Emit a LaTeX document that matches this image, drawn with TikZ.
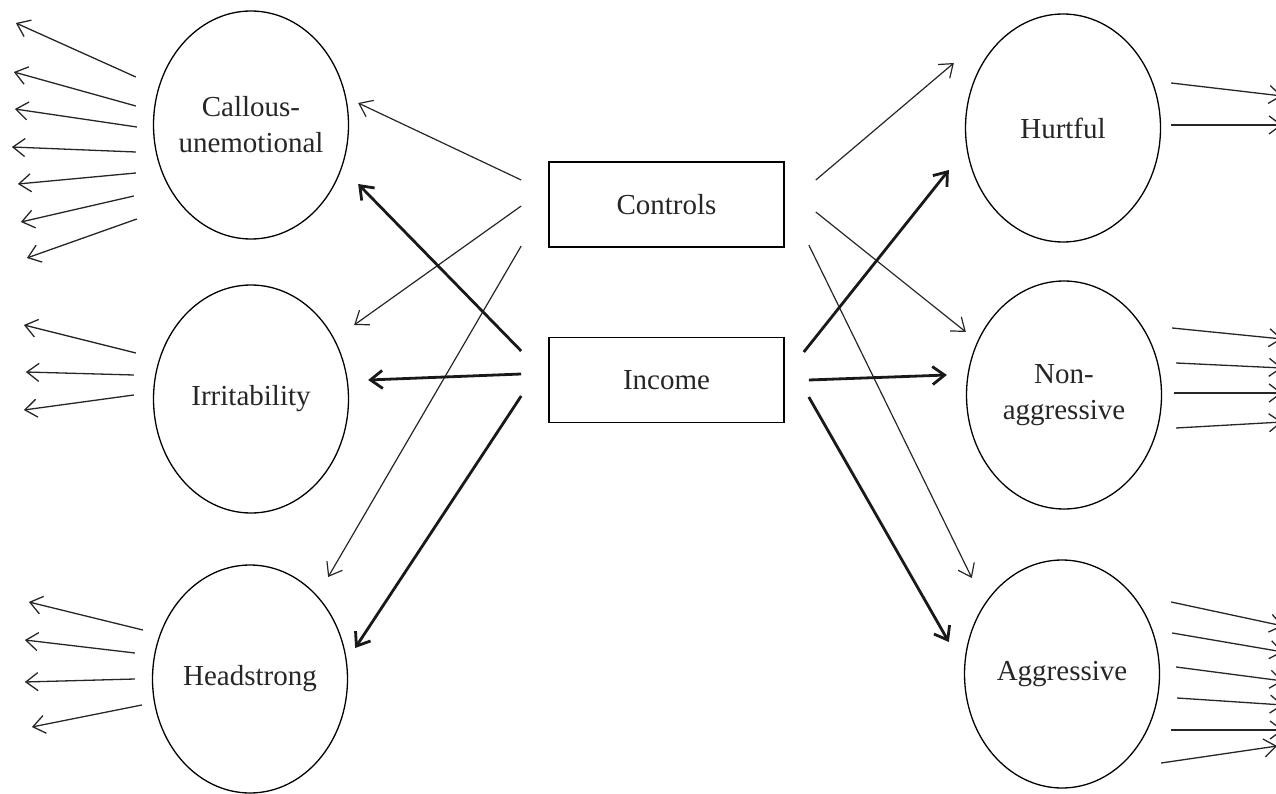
\documentclass[tikz,border=0pt]{standalone}
\usepackage{fontspec}
\setmainfont{Liberation Serif}
\usetikzlibrary{arrows.meta,calc,shapes.geometric}

\begin{document}
\begin{tikzpicture}[
  x=1pt, y=-1pt,
  font=\fontsize{29}{36}\selectfont,
  latent/.style={draw, ellipse, line width=1.3pt, inner xsep=-14pt, inner ysep=0pt, minimum width=195pt, minimum height=228pt, align=center, text=black!85},
  box/.style={draw, rectangle, line width=1.6pt, inner sep=0pt, minimum width=235pt, minimum height=85pt, text=black!85},
  effect/.style={->, line width=1.2pt, draw=black!85},
  strong/.style={->, line width=2.8pt, draw=black!90},
  ind/.style={->, line width=1.3pt, draw=black!85},
  >={Straight Barb[length=12pt,width=18pt]}
]
\useasboundingbox (0,0) rectangle (1276,794);
\clip (0,0) rectangle (1276,794);

% predictors
\node[box] (controls) at (666.5,204.5) {Controls};
\node[box] (income) at (666.5,380) {Income};

% left factors
\node[latent] (cu) at (251,125) {Callous-\\unemotional};
\node[latent] (ir) at (251,399) {Irritability};
\node[latent] (hs) at (250,679) {Headstrong};

% right factors
\node[latent] (hu) at (1063,128) {Hurtful};
\node[latent] (na) at (1064,395) {Non-\\aggressive};
\node[latent] (ag) at (1062,674) {Aggressive};

% controls paths
\draw[effect] ($(controls.west)+(-27,-24.5)$) -- ($(cu.east)+(9,-22)$);
\draw[effect] ($(controls.west)+(-27,1.5)$) -- ($(ir.east)+(5,-74)$);
\draw[effect] ($(controls.west)+(-27,41.5)$) -- ($(hs.east)+(-20,-102)$);
\draw[effect] ($(controls.east)+(31,-24.5)$) -- ($(hu.west)+(-11,-65)$);
\draw[effect] ($(controls.east)+(31,7.5)$) -- ($(na.west)+(0,-63)$);
\draw[effect] ($(controls.east)+(24,40.5)$) -- ($(ag.west)+(8,-96)$);

% income paths
\draw[strong] ($(income.west)+(-27,-29)$) -- ($(cu.east)+(9,59)$);
\draw[strong] ($(income.west)+(-27,-6)$) -- ($(ir.east)+(19,-19)$);
\draw[strong] ($(income.west)+(-27,16)$) -- ($(hs.east)+(7,-31)$);
\draw[strong] ($(income.east)+(19,-28)$) -- ($(hu.west)+(-16,42)$);
\draw[strong] ($(income.east)+(24,0)$) -- ($(na.west)+(-19,-20)$);
\draw[strong] ($(income.east)+(24,17)$) -- ($(ag.west)+(-15,-32)$);

% indicators
\foreach \sa/\sb/\ea/\eb in {-17/-48/-137/-102, -17/-19/-139/-53, -16/2/-138/-16,
    -17/27/-141/22, -17/48/-135/59, -19/71/-132/97, -16/94/-126/133}
  \draw[ind] ($(cu.west)+(\sa,\sb)$) -- ($(cu.west)+(\ea,\eb)$);
\foreach \sa/\sb/\ea/\eb in {-17/-46/-129/-74, -19/-24/-127/-27, -19/-4/-129/11}
  \draw[ind] ($(ir.west)+(\sa,\sb)$) -- ($(ir.west)+(\ea,\eb)$);
\foreach \sa/\sb/\ea/\eb in {-9/-49/-123/-77, -17/-26/-127/-39, -17/0/-127/3, -10/26/-120/48}
  \draw[ind] ($(hs.west)+(\sa,\sb)$) -- ($(hs.west)+(\ea,\eb)$);
\foreach \sa/\sb/\ea/\eb in {10/-45/121/-32, 10/-3/121/-3}
  \draw[ind] ($(hu.east)+(\sa,\sb)$) -- ($(hu.east)+(\ea,\eb)$);
\foreach \sa/\sb/\ea/\eb in {10/-67/120/-56, 14/-32/120/-27, 12/-2/120/-2, 14/33/120/27}
  \draw[ind] ($(na.east)+(\sa,\sb)$) -- ($(na.east)+(\ea,\eb)$);
\foreach \sa/\sb/\ea/\eb in {11/-72/123/-48, 12/-41/123/-22, 16/-7/123/7,
    17/24/123/31, 11/56/123/56, 1/89/117/72}
  \draw[ind] ($(ag.east)+(\sa,\sb)$) -- ($(ag.east)+(\ea,\eb)$);
\end{tikzpicture}
\end{document}
